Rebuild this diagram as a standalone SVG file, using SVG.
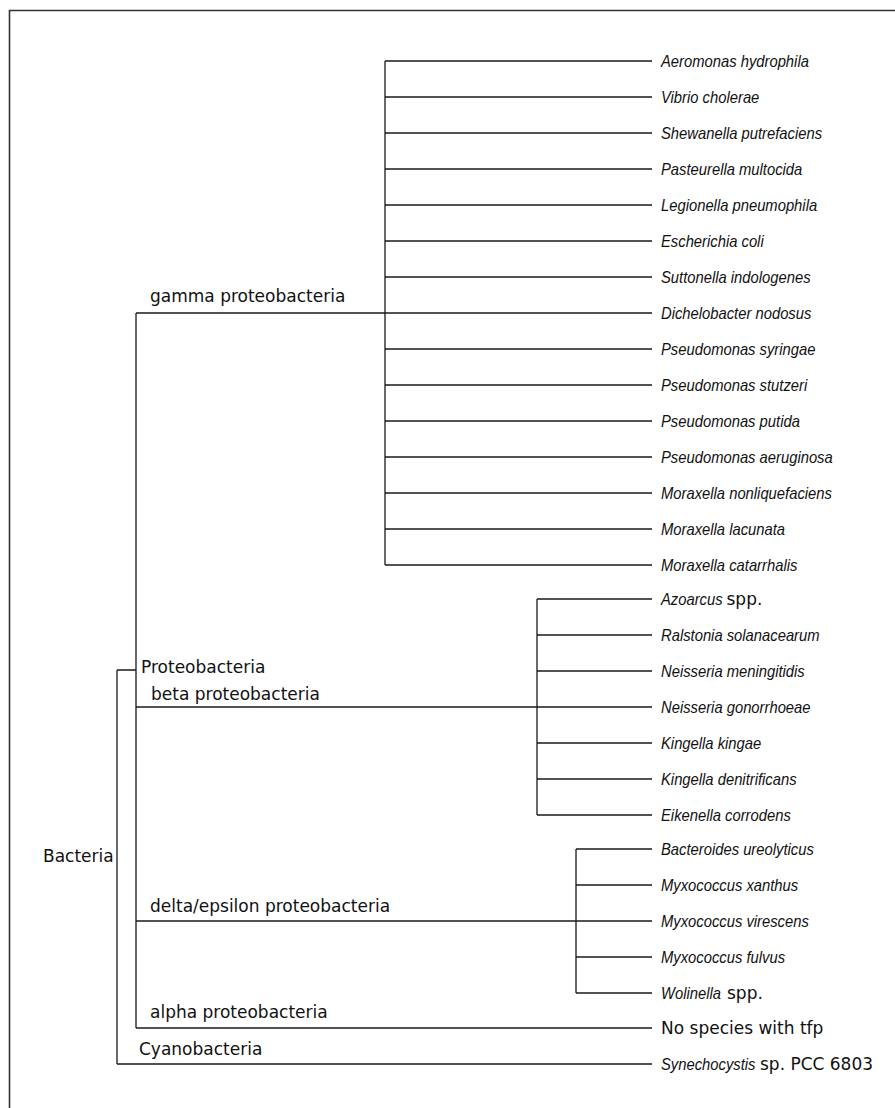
<svg xmlns="http://www.w3.org/2000/svg" width="895" height="1108" viewBox="0 0 895 1108">
<style>
.frame{fill:none;stroke:#333;stroke-width:1.6}
.ln{fill:none;stroke:#1a1a1a;stroke-width:1.3}
.lab{font-family:"DejaVu Sans","Liberation Sans",sans-serif;font-size:17px;fill:#111}
.sp{font-family:"Liberation Sans","Arial",sans-serif;font-style:italic;font-size:17px;fill:#111}
</style>
<rect width="895" height="1108" fill="#fff"/>
<path class="frame" d="M9.5,1108 V10.5 H895"/>
<g id="connectors">
<path class="ln" d="M385,61 V565 M385,61 H652 M385,97 H652 M385,133 H652 M385,169 H652 M385,205 H652 M385,241 H652 M385,277 H652 M385,313 H652 M385,349 H652 M385,385 H652 M385,421 H652 M385,457 H652 M385,493 H652 M385,529 H652 M385,565 H652"/>
<path class="ln" d="M537,599 V815 M537,599 H652 M537,635 H652 M537,671 H652 M537,707 H652 M537,743 H652 M537,779 H652 M537,815 H652"/>
<path class="ln" d="M576,849 V993 M576,849 H652 M576,885 H652 M576,921 H652 M576,957 H652 M576,993 H652"/>
<path class="ln" d="M136,313 V1028 M136,313 H385 M136,707 H537 M136,921 H576 M136,1028 H652"/>
<path class="ln" d="M117,670 V1064 M117,670 H136 M117,1064 H652"/>
</g>
<g id="bacteria"><text class="lab" x="43" y="862">Bacteria</text></g>
<g id="proteobacteria"><text class="lab" x="141" y="673">Proteobacteria</text></g>
<g id="gamma"><text class="lab" x="150" y="302">gamma proteobacteria</text></g>
<g id="beta"><text class="lab" x="151" y="700">beta proteobacteria</text></g>
<g id="delta"><text class="lab" x="150" y="912">delta/epsilon proteobacteria</text></g>
<g id="alpha"><text class="lab" x="150" y="1018">alpha proteobacteria</text></g>
<g id="cyanobacteria"><text class="lab" x="139" y="1055">Cyanobacteria</text></g>
<g id="leaf-aeromonas"><text class="sp" transform="translate(661 66.5) scale(0.87 1)">Aeromonas hydrophila</text></g>
<g id="leaf-vibrio"><text class="sp" transform="translate(661 102.5) scale(0.87 1)">Vibrio cholerae</text></g>
<g id="leaf-shewanella"><text class="sp" transform="translate(661 138.5) scale(0.87 1)">Shewanella putrefaciens</text></g>
<g id="leaf-pasteurella"><text class="sp" transform="translate(661 174.5) scale(0.87 1)">Pasteurella multocida</text></g>
<g id="leaf-legionella"><text class="sp" transform="translate(661 210.5) scale(0.87 1)">Legionella pneumophila</text></g>
<g id="leaf-escherichia"><text class="sp" transform="translate(661 246.5) scale(0.87 1)">Escherichia coli</text></g>
<g id="leaf-suttonella"><text class="sp" transform="translate(661 282.5) scale(0.87 1)">Suttonella indologenes</text></g>
<g id="leaf-dichelobacter"><text class="sp" transform="translate(661 318.5) scale(0.87 1)">Dichelobacter nodosus</text></g>
<g id="leaf-ps-syringae"><text class="sp" transform="translate(661 354.5) scale(0.87 1)">Pseudomonas syringae</text></g>
<g id="leaf-ps-stutzeri"><text class="sp" transform="translate(661 390.5) scale(0.87 1)">Pseudomonas stutzeri</text></g>
<g id="leaf-ps-putida"><text class="sp" transform="translate(661 426.5) scale(0.87 1)">Pseudomonas putida</text></g>
<g id="leaf-ps-aeruginosa"><text class="sp" transform="translate(661 462.5) scale(0.87 1)">Pseudomonas aeruginosa</text></g>
<g id="leaf-mor-nonliq"><text class="sp" transform="translate(661 498.5) scale(0.87 1)">Moraxella nonliquefaciens</text></g>
<g id="leaf-mor-lacunata"><text class="sp" transform="translate(661 534.5) scale(0.87 1)">Moraxella lacunata</text></g>
<g id="leaf-mor-catarrhalis"><text class="sp" transform="translate(661 570.5) scale(0.87 1)">Moraxella catarrhalis</text></g>
<g id="leaf-azoarcus"><text class="sp" transform="translate(661 604.5) scale(0.87 1)">Azoarcus</text><text class="lab" x="726.5" y="604.5">spp.</text></g>
<g id="leaf-ralstonia"><text class="sp" transform="translate(661 640.5) scale(0.87 1)">Ralstonia solanacearum</text></g>
<g id="leaf-n-meningitidis"><text class="sp" transform="translate(661 676.5) scale(0.87 1)">Neisseria meningitidis</text></g>
<g id="leaf-n-gonorrhoeae"><text class="sp" transform="translate(661 712.5) scale(0.87 1)">Neisseria gonorrhoeae</text></g>
<g id="leaf-k-kingae"><text class="sp" transform="translate(661 748.5) scale(0.87 1)">Kingella kingae</text></g>
<g id="leaf-k-denitrificans"><text class="sp" transform="translate(661 784.5) scale(0.87 1)">Kingella denitrificans</text></g>
<g id="leaf-eikenella"><text class="sp" transform="translate(661 820.5) scale(0.87 1)">Eikenella corrodens</text></g>
<g id="leaf-bacteroides"><text class="sp" transform="translate(661 854.5) scale(0.87 1)">Bacteroides ureolyticus</text></g>
<g id="leaf-myx-xanthus"><text class="sp" transform="translate(661 890.5) scale(0.87 1)">Myxococcus xanthus</text></g>
<g id="leaf-myx-virescens"><text class="sp" transform="translate(661 926.5) scale(0.87 1)">Myxococcus virescens</text></g>
<g id="leaf-myx-fulvus"><text class="sp" transform="translate(661 962.5) scale(0.87 1)">Myxococcus fulvus</text></g>
<g id="leaf-wolinella"><text class="sp" transform="translate(661 998.5) scale(0.87 1)">Wolinella</text><text class="lab" x="727" y="998.5">spp.</text></g>
<g id="leaf-alpha-none"><text class="lab" x="661" y="1033.5">No species with tfp</text></g>
<g id="leaf-synechocystis"><text class="sp" transform="translate(661 1069.5) scale(0.87 1)">Synechocystis</text><text class="lab" x="760" y="1069.5" textLength="113" lengthAdjust="spacingAndGlyphs">sp. PCC 6803</text></g>
</svg>
